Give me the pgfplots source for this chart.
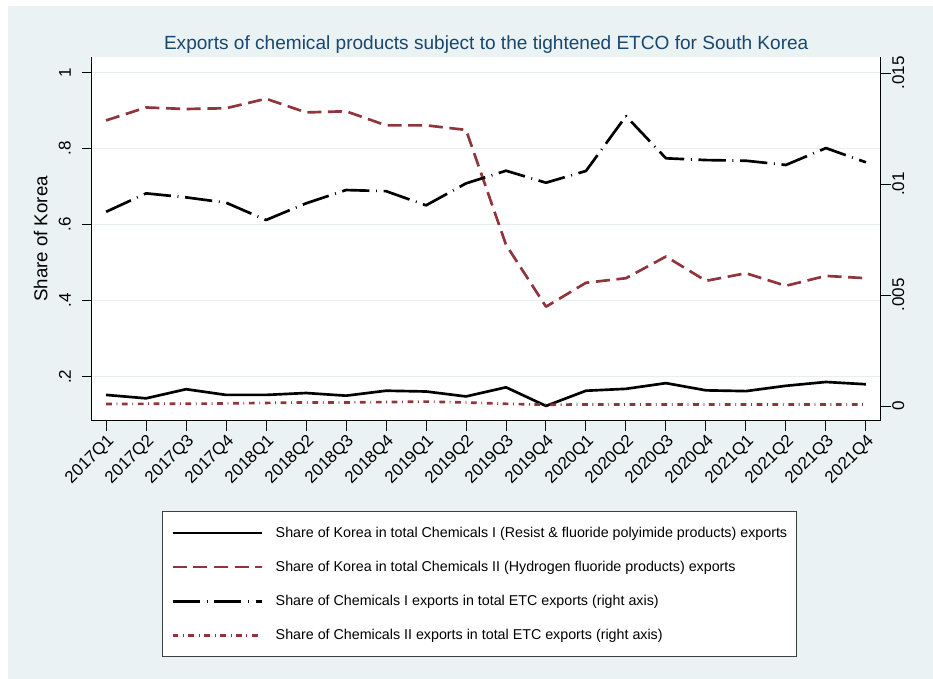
\documentclass[border=0pt]{standalone}
\usepackage{pgfplots}
\pgfplotsset{compat=1.18}
\usepackage{fontspec}
\setmainfont{Liberation Sans}
\definecolor{bgb}{HTML}{EAF2F3}
\definecolor{stred}{HTML}{90353B}
\definecolor{navy}{HTML}{1A476F}
\definecolor{gridc}{HTML}{E6EEF1}
\tikzset{
 s1/.style={black, line width=2pt, solid},
 s2/.style={stred, line width=2pt, dash pattern=on 10.5pt off 5pt},
 s3/.style={black, line width=2pt, dash pattern=on 20.5pt off 5pt on 0.7pt off 5pt},
 s4/.style={stred, line width=2pt, dash pattern=on 4.3pt off 3.5pt on 0.6pt off 3.5pt},
}
\pgfplotstableread{
x s1 s2 s3 s4
0 0.152 0.874 0.00875 0.00009
1 0.143 0.908 0.00958 0.00010
2 0.167 0.904 0.00940 0.00010
3 0.152 0.906 0.00916 0.00012
4 0.152 0.931 0.00838 0.00014
5 0.157 0.895 0.00913 0.00016
6 0.150 0.898 0.00973 0.00016
7 0.163 0.861 0.00968 0.00018
8 0.161 0.861 0.00904 0.00020
9 0.148 0.849 0.01003 0.00016
10 0.172 0.547 0.01060 0.00010
11 0.123 0.384 0.01006 0.00006
12 0.163 0.447 0.01059 0.00007
13 0.168 0.459 0.01306 0.00007
14 0.183 0.516 0.01116 0.00007
15 0.164 0.452 0.01108 0.00007
16 0.162 0.472 0.01105 0.00007
17 0.176 0.439 0.01086 0.00007
18 0.186 0.465 0.01162 0.00007
19 0.180 0.459 0.01098 0.00007
}\datatable
\pgfplotsset{
 common/.style={
  at={(68.78pt,193.73pt)}, anchor=south west,
  scale only axis, width=591.75pt, height=272.55pt,
  xmin=-0.36, xmax=19.37,
  tick align=outside, major tick length=7.5pt,
  every tick/.style={black, line width=0.75pt},
  axis line style={black, line width=0.75pt, -},
  /pgf/number format/assume math mode=true,
  ticklabel style={font=\fontsize{12.75pt}{15pt}\selectfont},
  clip=false,
 }
}
\begin{document}
\begin{tikzpicture}
\useasboundingbox (0,0) rectangle (699.75pt,509.25pt);
\fill[white] (0,0) rectangle (699.75pt,509.25pt);
\fill[bgb] (6pt,0) rectangle (699.75pt,504.75pt);
\begin{axis}[common,
  axis background/.style={fill=white},
  axis x line*=bottom, axis y line*=left,
  ymin=0.0842, ymax=1.040,
  ytick={0.2,0.4,0.6,0.8,1}, yticklabels={.2,.4,.6,.8,1},
  ymajorgrids, grid style={gridc, line width=1.1pt},
  yticklabel style={xshift=-8pt, rotate=90, anchor=south, inner sep=0pt},
  xtick={0,...,19},
  xticklabels={2017Q1,2017Q2,2017Q3,2017Q4,2018Q1,2018Q2,2018Q3,2018Q4,2019Q1,2019Q2,2019Q3,2019Q4,2020Q1,2020Q2,2020Q3,2020Q4,2021Q1,2021Q2,2021Q3,2021Q4},
  xticklabel style={rotate=45, anchor=north east, inner sep=1pt},
  ylabel={Share of Korea},
  ylabel style={at={(axis description cs:-0.0563,0.5)}, anchor=base, font=\fontsize{14pt}{16pt}\selectfont},
  title={Exports of chemical products subject to the tightened ETCO for South Korea},
  title style={at={(axis description cs:0.5,1)}, anchor=base, yshift=-0.5pt, text=navy, font=\fontsize{14.3pt}{16pt}\selectfont},
]
\addplot[s1, line join=round] table[x=x,y=s1] {\datatable};
\addplot[s2, line join=round] table[x=x,y=s2] {\datatable};
\end{axis}
\begin{axis}[common,
  axis x line=none, axis y line*=right,
  ymin=-0.00066, ymax=0.01571,
  ytick={0,0.005,0.01,0.015}, yticklabels={0,.005,.01,.015},
  scaled y ticks=false,
  yticklabel style={xshift=1pt, rotate=90, anchor=north, inner sep=0pt},
  legend cell align=left,
  legend image code/.code={\draw[#1, line width=2pt] (0pt,0pt) -- (67pt,0pt);},
  legend style={at={(axis description cs:0.0886,-0.2485)}, anchor=north west,
    draw=black!75, line width=0.8pt, fill=white,
    font=\fontsize{10.7pt}{12.5pt}\selectfont,
    inner xsep=6.8pt, inner ysep=11.5pt, row sep=16.3pt, column sep=9.4pt,
    nodes={inner sep=0pt}},
]
\addlegendimage{s1}
\addlegendentry{Share of Korea in total Chemicals I (Resist \& fluoride polyimide products) exports}
\addlegendimage{s2}
\addlegendentry{Share of Korea in total Chemicals II (Hydrogen fluoride products) exports}
\addplot[s3, line join=round] table[x=x,y=s3] {\datatable};
\addlegendentry{Share of Chemicals I exports in total ETC exports (right axis)}
\addplot[s4, line join=round] table[x=x,y=s4] {\datatable};
\addlegendentry{Share of Chemicals II exports in total ETC exports (right axis)}
\end{axis}
\end{tikzpicture}
\end{document}
